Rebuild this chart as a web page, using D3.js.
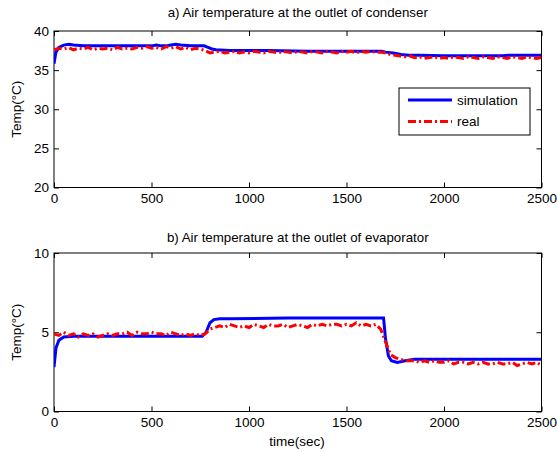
<!DOCTYPE html>
<html>
<head>
<meta charset="utf-8">
<script src="https://cdn.jsdelivr.net/npm/d3@7"></script>
<style>
  body { margin: 0; background: #fff; }
  svg { display: block; font-family: "Liberation Sans", Arial, sans-serif; }
</style>
</head>
<body>
<script>
"use strict";

// sampling of the measured ("real") series, every 25 s from 0 to 2500
const realStep = 25;

// a) condenser outlet, measured
const condReal = [
  37.6, 37.8, 37.7, 37.9, 37.6, 37.8, 37.7, 37.9, 37.6, 37.8,
  37.7, 37.8, 37.6, 37.9, 37.7, 37.8, 37.7, 37.9, 37.8, 38.0,
  37.8, 37.9, 37.7, 38.0, 37.8, 38.0, 37.7, 37.9, 37.6, 37.8,
  37.7, 37.5, 37.2, 37.3, 37.4, 37.2, 37.3, 37.4, 37.2, 37.3,
  37.2, 37.4, 37.3, 37.2, 37.4, 37.3, 37.2, 37.4, 37.3, 37.2,
  37.4, 37.3, 37.2, 37.4, 37.3, 37.2, 37.4, 37.3, 37.2, 37.4,
  37.3, 37.4, 37.2, 37.4, 37.3, 37.4, 37.3, 37.3, 37.2, 37.0,
  36.9, 36.8, 36.7, 36.8, 36.6, 36.7, 36.5, 36.6, 36.7, 36.5,
  36.6, 36.5, 36.7, 36.6, 36.5, 36.7, 36.6, 36.5, 36.7, 36.6,
  36.5, 36.7, 36.6, 36.5, 36.7, 36.6, 36.5, 36.7, 36.6, 36.5,
  36.6
];

// a) condenser outlet, simulation
const condSimTime = [0, 10, 25, 50, 75, 100, 150, 250, 400, 500, 525, 550, 575, 600, 625, 650, 700, 770, 790, 810,
  830, 900, 1100, 1300, 1500, 1680, 1700, 1740, 1780, 1820, 1870, 2000, 2300, 2330, 2500];
const condSim = [35.8, 37.3, 37.9, 38.2, 38.3, 38.2, 38.1, 38.1, 38.1, 38.1, 38.2, 38.1, 38.1, 38.2, 38.3, 38.2, 38.1, 38.1, 37.9, 37.7,
  37.6, 37.5, 37.5, 37.4, 37.4, 37.4, 37.3, 37.2, 37.0, 36.9, 36.9, 36.85, 36.85, 36.9, 36.9];

// b) evaporator outlet, measured
const evapReal = [
  4.9, 4.8, 5.0, 4.8, 4.9, 4.7, 4.9, 4.8, 4.9, 4.7,
  4.8, 4.9, 4.8, 4.9, 4.9, 5.0, 4.8, 5.0, 4.9, 4.9,
  5.0, 4.9, 4.9, 4.8, 5.0, 4.9, 4.8, 4.9, 4.8, 4.9,
  4.8, 4.9, 5.2, 5.3, 5.4, 5.3, 5.5, 5.4, 5.3, 5.4,
  5.3, 5.5, 5.4, 5.3, 5.5, 5.4, 5.4, 5.5, 5.3, 5.4,
  5.5, 5.4, 5.3, 5.5, 5.4, 5.5, 5.4, 5.5, 5.5, 5.4,
  5.5, 5.4, 5.6, 5.4, 5.5, 5.4, 5.5, 5.2, 4.4, 3.6,
  3.4, 3.3, 3.2, 3.2, 3.2, 3.1, 3.2, 3.1, 3.2, 3.1,
  3.1, 3.2, 3.0, 3.1, 3.1, 3.0, 3.1, 3.0, 3.1, 3.0,
  3.0, 3.1, 3.0, 3.0, 3.1, 2.9, 3.0, 3.1, 3.0, 3.1,
  2.9
];

// b) evaporator outlet, simulation
const evapSimTime = [0, 10, 25, 50, 100, 400, 760, 780, 800, 820, 850, 900, 1200, 1690, 1700, 1715, 1730, 1760, 1800, 1850, 2500];
const evapSim = [2.8, 4.0, 4.5, 4.7, 4.75, 4.75, 4.75, 5.0, 5.6, 5.8, 5.85, 5.85, 5.9, 5.9, 4.6, 3.5, 3.2, 3.1, 3.2, 3.3, 3.3];

const xTicks = [0, 500, 1000, 1500, 2000, 2500];
const condTicks = [20, 25, 30, 35, 40];
const evapTicks = [0, 5, 10];
const legendLabels = ["simulation", "real"];

const width = 557;
const height = 452;

const svg = d3.select("body").append("svg")
  .attr("width", width)
  .attr("height", height);

const x = d3.scaleLinear().domain([0, 2500]).range([54, 541.5]);

const panels = [
  {
    id: "a",
    title: "a) Air temperature at the outlet of condenser",
    y: d3.scaleLinear().domain([20, 40]).range([187.5, 31]),
    yTicks: condTicks,
    real: condReal,
    simTime: condSimTime,
    sim: condSim,
    titleY: 17
  },
  {
    id: "b",
    title: "b) Air temperature at the outlet of evaporator",
    y: d3.scaleLinear().domain([0, 10]).range([411.5, 253]),
    yTicks: evapTicks,
    real: evapReal,
    simTime: evapSimTime,
    sim: evapSim,
    titleY: 242
  }
];

panels.forEach((p) => {
  const [yb, yt] = p.y.range();
  const g = svg.append("g");

  g.append("clipPath").attr("id", "clip-" + p.id)
    .append("rect")
    .attr("x", x(0)).attr("y", yt)
    .attr("width", x(2500) - x(0)).attr("height", yb - yt);

  // ticks inside on all 4 sides, labels only bottom/left
  const fmt = d3.format("d");
  g.append("g").attr("transform", `translate(0,${yb})`)
    .call(d3.axisBottom(x).tickValues(xTicks).tickFormat(fmt).tickSize(-5).tickPadding(6));
  g.append("g").attr("transform", `translate(0,${yt})`)
    .call(d3.axisTop(x).tickValues(xTicks).tickFormat("").tickSize(-5));
  g.append("g").attr("transform", `translate(${x(0)},0)`)
    .call(d3.axisLeft(p.y).tickValues(p.yTicks).tickFormat(fmt).tickSize(-5).tickPadding(5));
  g.append("g").attr("transform", `translate(${x(2500)},0)`)
    .call(d3.axisRight(p.y).tickValues(p.yTicks).tickFormat("").tickSize(-5));

  g.selectAll(".domain").remove();
  g.selectAll(".tick line").attr("stroke", "#000");
  g.selectAll(".tick text")
    .attr("fill", "#000")
    .style("font-size", "13.5px")
    .style("font-family", "'Liberation Sans', Arial, sans-serif");

  g.append("rect")
    .attr("x", x(0)).attr("y", yt)
    .attr("width", x(2500) - x(0)).attr("height", yb - yt)
    .attr("fill", "none").attr("stroke", "#000").attr("stroke-width", 1);

  const plot = g.append("g").attr("clip-path", `url(#clip-${p.id})`);

  const simLine = d3.line()
    .x((d, i) => x(p.simTime[i]))
    .y((d) => p.y(d));
  const realLine = d3.line()
    .x((d, i) => x(i * realStep))
    .y((d) => p.y(d));

  plot.append("path")
    .attr("d", simLine(p.sim))
    .attr("fill", "none")
    .attr("stroke", "#0000ff")
    .attr("stroke-width", 3);

  plot.append("path")
    .attr("d", realLine(p.real))
    .attr("fill", "none")
    .attr("stroke", "#ff0000")
    .attr("stroke-width", 3)
    .attr("stroke-dasharray", "8,3,2,3");

  g.append("text")
    .attr("x", (x(0) + x(2500)) / 2)
    .attr("y", p.titleY)
    .attr("text-anchor", "middle")
    .style("font-size", "13.3px")
    .text(p.title);

  g.append("text")
    .attr("transform", `translate(21,${(yt + yb) / 2}) rotate(-90)`)
    .attr("text-anchor", "middle")
    .style("font-size", "13.5px")
    .text("Temp(°C)");
});

svg.append("text")
  .attr("x", 297)
  .attr("y", 446)
  .attr("text-anchor", "middle")
  .style("font-size", "13.5px")
  .text("time(sec)");

// legend in panel a
const legend = svg.append("g");
legend.append("rect")
  .attr("x", 399).attr("y", 88)
  .attr("width", 131).attr("height", 47)
  .attr("fill", "#fff").attr("stroke", "#000");

const legendStyles = [
  { color: "#0000ff", dash: null },
  { color: "#ff0000", dash: "8,3,2,3" }
];
legendLabels.forEach((name, i) => {
  const ly = 100 + i * 21.5;
  legend.append("line")
    .attr("x1", 408).attr("x2", 452)
    .attr("y1", ly).attr("y2", ly)
    .attr("stroke", legendStyles[i].color)
    .attr("stroke-width", 3)
    .attr("stroke-dasharray", legendStyles[i].dash);
  legend.append("text")
    .attr("x", 457).attr("y", ly)
    .attr("dy", "0.35em")
    .style("font-size", "13.5px")
    .text(name);
});
</script>
</body>
</html>
